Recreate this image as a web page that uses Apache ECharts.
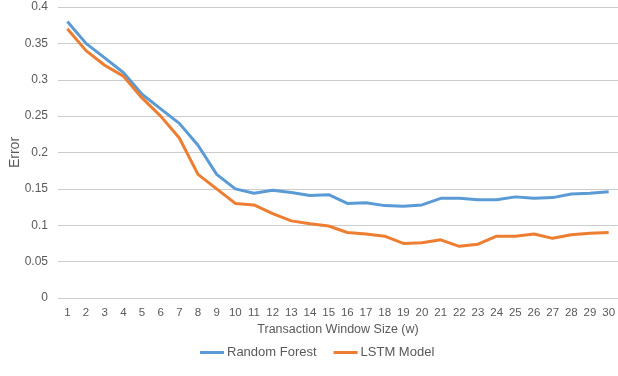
<!DOCTYPE html>
<html>
<head>
<meta charset="utf-8">
<script src="https://cdn.jsdelivr.net/npm/echarts@6/dist/echarts.min.js"></script>
<style>
  html, body { margin: 0; padding: 0; background: #fff; }
  #chart { width: 618px; height: 376px; }
</style>
</head>
<body>
<div id="chart"></div>
<script>
// Transaction window sizes 1..30
const windowSizes = ['1','2','3','4','5','6','7','8','9','10','11','12','13','14','15',
  '16','17','18','19','20','21','22','23','24','25','26','27','28','29','30'];

// Error by window size
const randomForest = [0.38, 0.35, 0.33, 0.31, 0.28, 0.26, 0.24, 0.21, 0.17, 0.15,
  0.144, 0.148, 0.145, 0.141, 0.142, 0.13, 0.131, 0.127, 0.126, 0.128,
  0.137, 0.137, 0.135, 0.135, 0.139, 0.137, 0.138, 0.143, 0.144, 0.146];
const lstmModel = [0.37, 0.34, 0.32, 0.305, 0.275, 0.25, 0.22, 0.17, 0.15, 0.13,
  0.128, 0.116, 0.106, 0.102, 0.099, 0.09, 0.088, 0.085, 0.075, 0.076,
  0.08, 0.071, 0.074, 0.085, 0.085, 0.088, 0.082, 0.087, 0.089, 0.09];

const yTicks = [0, 0.05, 0.1, 0.15, 0.2, 0.25, 0.3, 0.35, 0.4];

const textColor = '#595959';
const font = 'Liberation Sans, Arial, sans-serif';

const chart = echarts.init(document.getElementById('chart'));
chart.setOption({
  animation: false,
  textStyle: { fontFamily: font },
  grid: { left: 58, right: 0, top: 7, bottom: 78, containLabel: false, outerBoundsMode: 'none' },
  legend: {
    bottom: 12,
    left: 195,
    itemWidth: 24,
    itemHeight: 3,
    itemGap: 17,
    icon: 'rect',
    textStyle: { color: textColor, fontSize: 13, fontFamily: font, padding: [0, 0, 0, -2] },
    data: ['Random Forest', 'LSTM Model']
  },
  xAxis: {
    type: 'category',
    data: windowSizes,
    boundaryGap: true,
    name: 'Transaction Window Size (w)',
    nameLocation: 'middle',
    nameGap: 25,
    nameMoveOverlap: false,
    nameTextStyle: { color: textColor, fontSize: 12.5 },
    axisLine: { show: false },
    axisTick: { show: false },
    axisLabel: { color: textColor, fontSize: 11.5, interval: 0, margin: 9 }
  },
  yAxis: {
    type: 'value',
    min: yTicks[0],
    max: yTicks[yTicks.length - 1],
    interval: 0.05,
    name: 'Error',
    nameLocation: 'middle',
    nameGap: 36,
    nameMoveOverlap: false,
    nameTextStyle: { color: textColor, fontSize: 14 },
    axisLine: { show: false },
    axisTick: { show: false },
    axisLabel: { color: textColor, fontSize: 12, margin: 10 },
    splitLine: { lineStyle: { color: '#cccccc', width: 1.2 } }
  },
  series: [
    {
      name: 'Random Forest',
      type: 'line',
      data: randomForest,
      symbol: 'none',
      lineStyle: { color: '#5B9BD5', width: 3 },
      itemStyle: { color: '#5B9BD5' }
    },
    {
      name: 'LSTM Model',
      type: 'line',
      data: lstmModel,
      symbol: 'none',
      lineStyle: { color: '#ED7D31', width: 3 },
      itemStyle: { color: '#ED7D31' }
    }
  ]
});
</script>
</body>
</html>
